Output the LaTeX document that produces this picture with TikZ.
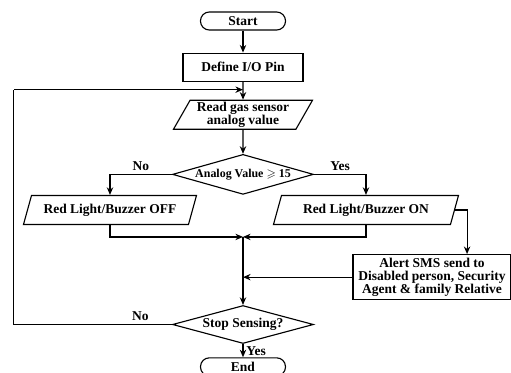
\documentclass[tikz,border=0pt]{standalone}
\usepackage{fontspec}
\setmainfont{Liberation Serif}
\usepackage{amssymb}
\usetikzlibrary{positioning, arrows.meta, shapes.geometric}

\begin{document}
\begin{tikzpicture}[
      rand/.style={draw, line width=0.8pt, rounded corners=0.22cm,
        inner sep=0pt, minimum width=2.125cm, minimum height=0.45cm,
        font=\fontsize{9.6}{9.4}\selectfont\bfseries},
      prozess/.style={draw, line width=0.8pt, align=center, inner sep=0pt,
        font=\fontsize{9.6}{9.4}\selectfont\bfseries},
      daten/.style={trapezium, trapezium left angle=57, trapezium right angle=123,
        trapezium stretches body, draw, line width=0.8pt, align=center,
        inner sep=0pt, minimum height=0.725cm,
        font=\fontsize{9.6}{9.4}\selectfont\bfseries},
      frage/.style={diamond, draw, line width=0.8pt, shape aspect=3.5,
        inner sep=0pt, minimum width=3.525cm,
        font=\fontsize{9.6}{9.4}\selectfont\bfseries},
      marke/.style={font=\fontsize{9.6}{9.4}\selectfont\bfseries, inner sep=2pt},
      pfeil/.style={-{Stealth[length=1.9mm, width=1.6mm]}, line width=0.8pt},
      linie/.style={line width=0.8pt}]
    \useasboundingbox (-6.075,0.525) rectangle (6.7,-8.8);
    \node[rand] (start) at (0,0) {Start};
    \node[prozess, below=0.55cm of start, minimum width=3cm, minimum height=0.7cm] (pins) {Define I/O Pin};
    \node[daten, below=0.45cm of pins, minimum width=3.475cm] (read) {Read gas sensor\\analog value};
    \node[frage, below=0.6cm of read, minimum height=1cm,
      font=\fontsize{8.5}{9}\selectfont\bfseries] (check) {Analog Value $\geqslant$ 15};
    \node[daten, below=0pt of check, xshift=-3.325cm, minimum width=4.325cm] (off) {Red Light/Buzzer OFF};
    \node[daten, below=0pt of check, xshift=3.075cm, minimum width=4.625cm] (on) {Red Light/Buzzer ON};
    \node[prozess, below=0.725cm of on, xshift=1.65cm, minimum width=3.95cm, minimum height=1.125cm] (sms)
      {Alert SMS send to\\Disabled person, Security\\Agent \& family Relative};
    \coordinate[below=1.05cm of check] (mitte);
    \node[frage, below=2.75cm of check, minimum height=0.95cm] (stop) {Stop Sensing?};
    \node[rand, below=0.33cm of stop] (ende) {End};
    \coordinate[right=0.3cm of on.east] (knick);
    \coordinate[left=3.95cm of stop.west] (links);
    \coordinate[below=0.2cm of pins] (rueck);
    \draw[pfeil] (start) -- (pins);
    \draw[pfeil] (pins) -- (read);
    \draw[pfeil] (read) -- (check);
    \draw[pfeil] (check.west) -| node[marke, pos=0.25, above] {No} (off.north);
    \draw[pfeil] (check.east) -| node[marke, pos=0.25, above] {Yes} (on.north);
    \draw[pfeil] (off.south) |- (mitte);
    \draw[pfeil] (on.south) |- (mitte);
    \draw[pfeil] (on.east) -- (knick) -- (knick|-sms.north);
    \draw[pfeil] (sms.west) -- (mitte|-sms.west);
    \draw[pfeil] (mitte) -- (stop);
    \draw[pfeil] (stop) -- node[marke, right] {Yes} (ende);
    \draw[linie] (stop.west) -- node[marke, pos=0.2, above] {No} (links) -- (links|-rueck);
    \draw[pfeil] (links|-rueck) -- (rueck);
  \end{tikzpicture}
\end{document}
